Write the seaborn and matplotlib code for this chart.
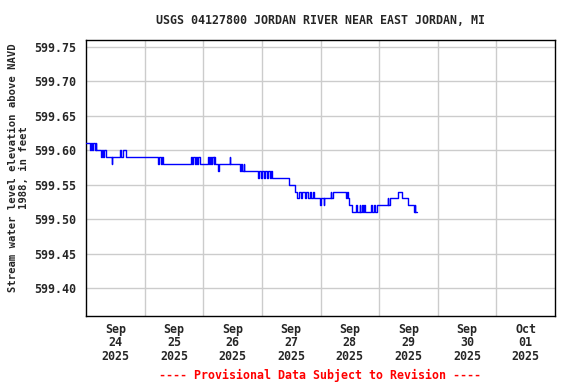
import matplotlib
matplotlib.use("Agg")
import matplotlib.pyplot as plt
import seaborn as sns
import pandas as pd
import numpy as np

# Step change points: hours since 2025-09-24 00:00 and gage height (ft)
change_hours = [0.0, 1.5, 2.0, 2.5, 3.0, 3.5, 4.0, 4.25, 6.0, 6.5, 7.0, 7.5, 8.0,
                10.5, 10.75, 13.75, 14.5, 15.0, 16.25,
                29.5, 30.0, 30.5, 31.0, 31.5,
                43.0, 43.5, 44.0, 44.5, 45.0, 45.5, 46.0, 46.5,
                49.75, 50.25, 50.75, 51.25, 51.75, 52.25, 52.5, 53.0,
                54.0, 54.5, 58.75, 59.0,
                63.0, 63.5, 64.0, 64.5, 64.75,
                70.5, 71.0, 71.5, 72.0, 72.75, 73.25, 74.0, 74.5, 75.25, 75.75, 76.0,
                83.0, 85.75,
                86.5, 87.0, 88.0, 88.5, 89.5, 90.0, 91.0, 91.5, 92.25, 92.75, 93.25,
                95.75, 96.0, 97.25, 97.5,
                100.25, 100.5, 101.0,
                106.5, 107.0, 107.25, 107.75, 108.75,
                110.5, 111.0, 112.0, 112.25, 113.0, 113.5, 114.0, 114.25,
                116.5, 117.0, 118.0, 118.25, 119.0,
                123.5, 123.75, 124.25, 127.75, 129.5, 131.75,
                134.25, 134.5, 134.75, 135.5]
levels = [599.61, 599.60, 599.61, 599.60, 599.61, 599.60, 599.61, 599.60, 599.59, 599.60, 599.59, 599.60, 599.59,
          599.58, 599.59, 599.60, 599.59, 599.60, 599.59,
          599.58, 599.59, 599.58, 599.59, 599.58,
          599.59, 599.58, 599.59, 599.58, 599.59, 599.58, 599.59, 599.58,
          599.59, 599.58, 599.59, 599.58, 599.59, 599.58, 599.59, 599.58,
          599.57, 599.58, 599.59, 599.58,
          599.57, 599.58, 599.57, 599.58, 599.57,
          599.56, 599.57, 599.56, 599.57, 599.56, 599.57, 599.56, 599.57, 599.56, 599.57, 599.56,
          599.55, 599.54,
          599.53, 599.54, 599.53, 599.54, 599.53, 599.54, 599.53, 599.54, 599.53, 599.54, 599.53,
          599.52, 599.53, 599.52, 599.53,
          599.54, 599.53, 599.54,
          599.53, 599.54, 599.53, 599.52, 599.51,
          599.52, 599.51, 599.52, 599.51, 599.52, 599.51, 599.52, 599.51,
          599.52, 599.51, 599.52, 599.51, 599.52,
          599.53, 599.52, 599.53, 599.54, 599.53, 599.52,
          599.51, 599.52, 599.51, 599.51]

y_ticks = [599.40, 599.45, 599.50, 599.55, 599.60, 599.65, 599.70, 599.75]
day_labels = ["Sep\n24\n2025", "Sep\n25\n2025", "Sep\n26\n2025", "Sep\n27\n2025",
              "Sep\n28\n2025", "Sep\n29\n2025", "Sep\n30\n2025", "Oct\n01\n2025"]
title = "USGS 04127800 JORDAN RIVER NEAR EAST JORDAN, MI"
ylabel = "Stream water level elevation above NAVD\n1988, in feet"
footer = "---- Provisional Data Subject to Revision ----"

df = pd.DataFrame({"hours": change_hours, "level": levels})

sns.set_theme(style="white")
plt.rcParams["font.family"] = ["DejaVu Sans Mono"]
plt.rcParams["font.weight"] = "bold"

fig = plt.figure(figsize=(5.76, 3.84), dpi=100)
ax = fig.add_axes([86/576, 1-316/384, (555-86)/576, (316-40)/384])

sns.lineplot(data=df, x="hours", y="level", ax=ax, color="#0000ff",
             linewidth=1.0, drawstyle="steps-post", zorder=3)

ax.set_xlim(0, 192)
ax.set_ylim(599.3593, 599.7602)
ax.set_yticks(y_ticks)
ax.set_yticklabels([f"{v:.2f}" for v in y_ticks], fontsize=8.4, fontweight="bold")
ax.set_xticks(np.arange(24, 192, 24))
ax.set_xticklabels([])
ax.set_xticks(np.arange(12, 192, 24), minor=True)
ax.set_xticklabels(day_labels, minor=True, fontsize=8.4, fontweight="bold",
                   linespacing=1.05)
ax.tick_params(axis="both", which="both", length=0, pad=7)
ax.tick_params(axis="x", which="minor", pad=5)
ax.grid(True, which="major", color="#cccccc", linewidth=1.0)
ax.set_axisbelow(True)
for s in ax.spines.values():
    s.set_color("black")
    s.set_linewidth(1.0)
    s.set_visible(True)
ax.set_xlabel("")
ax.set_ylabel(ylabel, fontsize=7.6, fontweight="bold", linespacing=1.1)
ax.yaxis.set_label_coords((29-86)/469, (316-168)/276)

fig.text(320/576, 1-20/384, title, ha="center", va="center",
         fontsize=8.4, fontweight="bold")
fig.text(320/576, 1-375/384, footer, ha="center", va="center",
         fontsize=8.4, fontweight="bold", color="#ff0000")

fig.savefig("out.png", dpi=100, facecolor="white")
